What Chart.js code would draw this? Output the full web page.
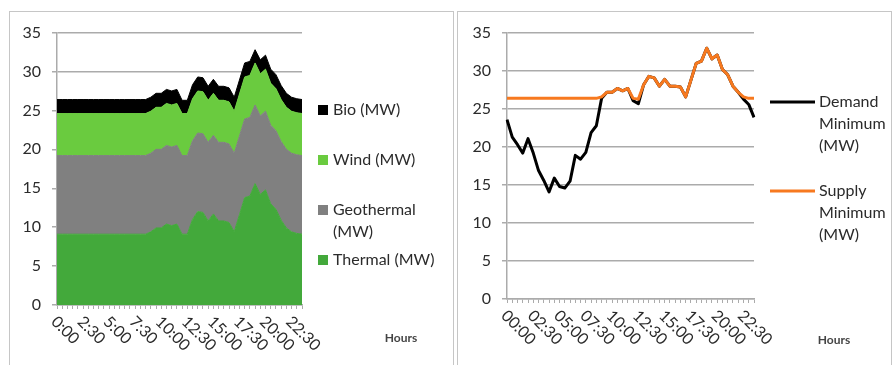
<!DOCTYPE html>
<html>
<head>
<meta charset="utf-8">
<script src="https://cdn.jsdelivr.net/npm/chart.js@4.4.1/dist/chart.umd.min.js"></script>
<style>
  body { margin: 0; background: #fff; width: 892px; height: 365px; overflow: hidden; position: relative; }
  .box { position: absolute; top: 11px; height: 365px; border: 1.5px solid #c6c6c6; box-sizing: border-box; }
  #box-left { left: 9px; width: 445px; }
  #box-right { left: 457px; width: 435px; }
  canvas { position: absolute; top: 12px; }
  #supply-mix { left: 10px; }
  #min-lines { left: 458px; }
</style>
</head>
<body>
<div class="box" id="box-left"></div>
<div class="box" id="box-right"></div>
<canvas id="supply-mix" width="443" height="353"></canvas>
<canvas id="min-lines" width="434" height="353"></canvas>
<script>
// half-hour categories
const halfHours = ['00:00','00:30','01:00','01:30','02:00','02:30','03:00','03:30','04:00','04:30',
  '05:00','05:30','06:00','06:30','07:00','07:30','08:00','08:30','09:00','09:30',
  '10:00','10:30','11:00','11:30','12:00','12:30','13:00','13:30','14:00','14:30',
  '15:00','15:30','16:00','16:30','17:00','17:30','18:00','18:30','19:00','19:30',
  '20:00','20:30','21:00','21:30','22:00','22:30','23:00','23:30'];

// left chart, stacked (MW)
const thermalMW = [9.1,9.1,9.1,9.1,9.1,9.1,9.1,9.1,9.1,9.1,9.1,9.1,9.1,9.1,9.1,9.1,9.1,9.1,
  9.4,9.9,9.9,10.4,10.2,10.4,9.1,9.1,11.0,12.0,11.9,10.8,11.7,10.8,10.8,10.6,9.4,11.6,
  13.8,14.0,15.6,14.2,14.8,13.0,12.3,10.9,9.9,9.4,9.2,9.1];
const geothermalMW = [10.1,10.1,10.1,10.1,10.1,10.1,10.1,10.1,10.1,10.1,10.1,10.1,10.1,10.1,10.1,10.1,
  10.1,10.1,10.1,10.1,10.1,10.1,10.1,10.1,10.1,10.1,10.1,10.1,10.1,10.1,10.1,10.1,
  10.1,10.1,10.1,10.1,10.1,10.1,10.1,10.1,10.1,10.1,10.1,10.1,10.1,10.1,10.1,10.1];
const windMW = [5.4,5.4,5.4,5.4,5.4,5.4,5.4,5.4,5.4,5.4,5.4,5.4,5.4,5.4,5.4,5.4,
  5.4,5.4,5.4,5.4,5.4,5.4,5.4,5.4,5.4,5.4,5.4,5.4,5.4,5.4,5.4,5.4,
  5.4,5.4,5.4,5.4,5.4,5.4,5.4,5.4,5.4,5.4,5.4,5.4,5.4,5.4,5.4,5.4];
const bioMW = [1.8,1.8,1.8,1.8,1.8,1.8,1.8,1.8,1.8,1.8,1.8,1.8,1.8,1.8,1.8,1.8,
  1.8,1.8,1.8,1.8,1.8,1.8,1.8,1.8,1.7,1.7,1.8,1.8,1.8,1.8,1.8,1.8,
  1.8,1.8,1.8,1.8,1.8,1.8,1.7,1.8,1.8,1.8,1.8,1.8,1.8,1.8,1.8,1.8];

// right chart lines (MW)
const demandMinMW = [23.6,21.3,20.3,19.2,21.1,19.2,16.9,15.6,14.1,15.9,14.8,14.6,15.5,18.9,18.4,19.3,21.9,22.8,
  26.4,27.2,27.2,27.7,27.4,27.7,26.1,25.7,28.2,29.3,29.1,28.0,28.9,28.0,28.0,27.9,26.6,28.8,
  31.0,31.3,33.0,31.6,32.1,30.2,29.5,28.0,27.2,26.3,25.6,23.9];
const supplyMinMW = [26.4,26.4,26.4,26.4,26.4,26.4,26.4,26.4,26.4,26.4,26.4,26.4,26.4,26.4,26.4,26.4,26.4,26.4,
  26.6,27.2,27.2,27.7,27.4,27.7,26.4,26.3,28.2,29.3,29.1,28.0,28.9,28.0,28.0,27.9,26.6,28.8,
  31.0,31.3,33.0,31.6,32.1,30.2,29.5,28.0,27.2,26.6,26.4,26.4];

const yTicks = [0, 5, 10, 15, 20, 25, 30, 35];
const labelEvery = 5;

Chart.defaults.font.family = 'Lato, "Open Sans", sans-serif';
Chart.defaults.font.size = 16;
Chart.defaults.color = '#2b2b2b';
Chart.defaults.animation = false;

// excel style labels, slanted down to the right
const slantedLabels = {
  id: 'slantedLabels',
  afterDraw(chart, args, o) {
    const ctx = chart.ctx;
    const x = chart.scales.x;
    const bottom = chart.chartArea.bottom;
    ctx.save();
    ctx.fillStyle = '#2b2b2b';
    ctx.font = '16px Lato, sans-serif';
    ctx.textAlign = 'left';
    ctx.textBaseline = 'middle';
    chart.data.labels.forEach((lab, i) => {
      if (i % labelEvery) return;
      const px = x.getPixelForValue(i);
      ctx.save();
      ctx.translate(px + o.dx, bottom + o.dy);
      ctx.rotate(Math.PI / 4);
      ctx.fillText(o.shortHours ? lab.replace(/^0(\d)/, '$1') : lab, 0, 0);
      ctx.restore();
    });
    ctx.font = 'bold 12px Lato, sans-serif';
    ctx.fillStyle = '#444';
    ctx.textAlign = 'center';
    ctx.fillText('Hours', o.hoursX, o.hoursY);
    ctx.restore();
  }
};

const sideLegend = {
  id: 'sideLegend',
  afterDraw(chart, args, o) {
    const ctx = chart.ctx;
    let items = chart.data.datasets.slice();
    if (o.reverse) items.reverse();
    ctx.save();
    ctx.font = '16px Lato, sans-serif';
    ctx.textBaseline = 'middle';
    ctx.textAlign = 'left';
    items.forEach((ds, k) => {
      const y = o.y + k * o.step;
      if (o.marker === 'box') {
        ctx.fillStyle = ds.backgroundColor;
        ctx.fillRect(o.x, y - 5, 10, 10);
      } else {
        ctx.strokeStyle = ds.borderColor;
        ctx.lineWidth = 3;
        ctx.beginPath();
        ctx.moveTo(o.x, y);
        ctx.lineTo(o.x + 45, y);
        ctx.stroke();
      }
      const words = ds.label.split(' ');
      const lines = [];
      let cur = '';
      words.forEach(w => {
        const test = cur ? cur + ' ' + w : w;
        if (cur && ctx.measureText(test).width > o.maxWidth) {
          lines.push(cur);
          cur = w;
        } else {
          cur = test;
        }
      });
      lines.push(cur);
      ctx.fillStyle = '#2b2b2b';
      lines.forEach((ln, j) => ctx.fillText(ln, o.textX, y + j * o.lineHeight));
    });
    ctx.restore();
  }
};

function yScale(width) {
  return {
    min: yTicks[0],
    max: yTicks[yTicks.length - 1],
    stacked: true,
    afterFit: s => { s.width = width; },
    ticks: { stepSize: yTicks[1] - yTicks[0], padding: 11 },
    grid: { color: '#ababab', lineWidth: 1.5, tickLength: 5 },
    border: { display: true, color: '#ababab', width: 1.5 }
  };
}

function xScale(height) {
  return {
    afterFit: s => { s.height = height; },
    ticks: { display: false, autoSkip: false },
    grid: { drawOnChartArea: false, drawTicks: true, tickLength: 4, color: '#ababab', lineWidth: 1 },
    border: { display: true, color: '#ababab', width: 1.5 }
  };
}

const areaColors = { thermal: '#43a93b', geo: '#808080', wind: '#6acb3f', bio: '#000000' };

function areaSet(label, data, color, fill) {
  return { label, data, backgroundColor: color, borderColor: color, borderWidth: 1,
    pointRadius: 0, fill, tension: 0 };
}

new Chart(document.getElementById('supply-mix').getContext('2d'), {
  type: 'line',
  data: {
    labels: halfHours,
    datasets: [
      areaSet('Thermal (MW)', thermalMW, areaColors.thermal, 'origin'),
      areaSet('Geothermal (MW)', geothermalMW, areaColors.geo, '-1'),
      areaSet('Wind (MW)', windMW, areaColors.wind, '-1'),
      areaSet('Bio (MW)', bioMW, areaColors.bio, '-1')
    ]
  },
  options: {
    responsive: false,
    layout: { padding: { top: 19, right: 151, left: 0, bottom: 0 } },
    plugins: {
      legend: { display: false },
      tooltip: { enabled: false },
      slantedLabels: { dx: -3, dy: 14, shortHours: true, hoursX: 391, hoursY: 326 },
      sideLegend: { reverse: true, marker: 'box', x: 308, textX: 323, y: 98, step: 50, lineHeight: 22, maxWidth: 112 }
    },
    scales: { x: xScale(60), y: yScale(47) }
  },
  plugins: [slantedLabels, sideLegend]
});

new Chart(document.getElementById('min-lines').getContext('2d'), {
  type: 'line',
  data: {
    labels: halfHours,
    datasets: [
      { label: 'Demand Minimum (MW)', data: demandMinMW, borderColor: '#000000', backgroundColor: '#000000',
        borderWidth: 3, pointRadius: 0, tension: 0, order: 1, borderJoinStyle: 'round' },
      { label: 'Supply Minimum (MW)', data: supplyMinMW, borderColor: '#f7791f', backgroundColor: '#f7791f',
        borderWidth: 3, pointRadius: 0, tension: 0, order: 0, borderJoinStyle: 'round' }
    ]
  },
  options: {
    responsive: false,
    layout: { padding: { top: 21, right: 138, left: 0, bottom: 0 } },
    plugins: {
      legend: { display: false },
      tooltip: { enabled: false },
      slantedLabels: { dx: -3, dy: 14, shortHours: false, hoursX: 376, hoursY: 328 },
      sideLegend: { reverse: false, marker: 'line', x: 312, textX: 361, y: 90, step: 89, lineHeight: 22, maxWidth: 70 }
    },
    scales: { x: xScale(66), y: Object.assign(yScale(49), { stacked: false }) }
  },
  plugins: [slantedLabels, sideLegend]
});
</script>
</body>
</html>
